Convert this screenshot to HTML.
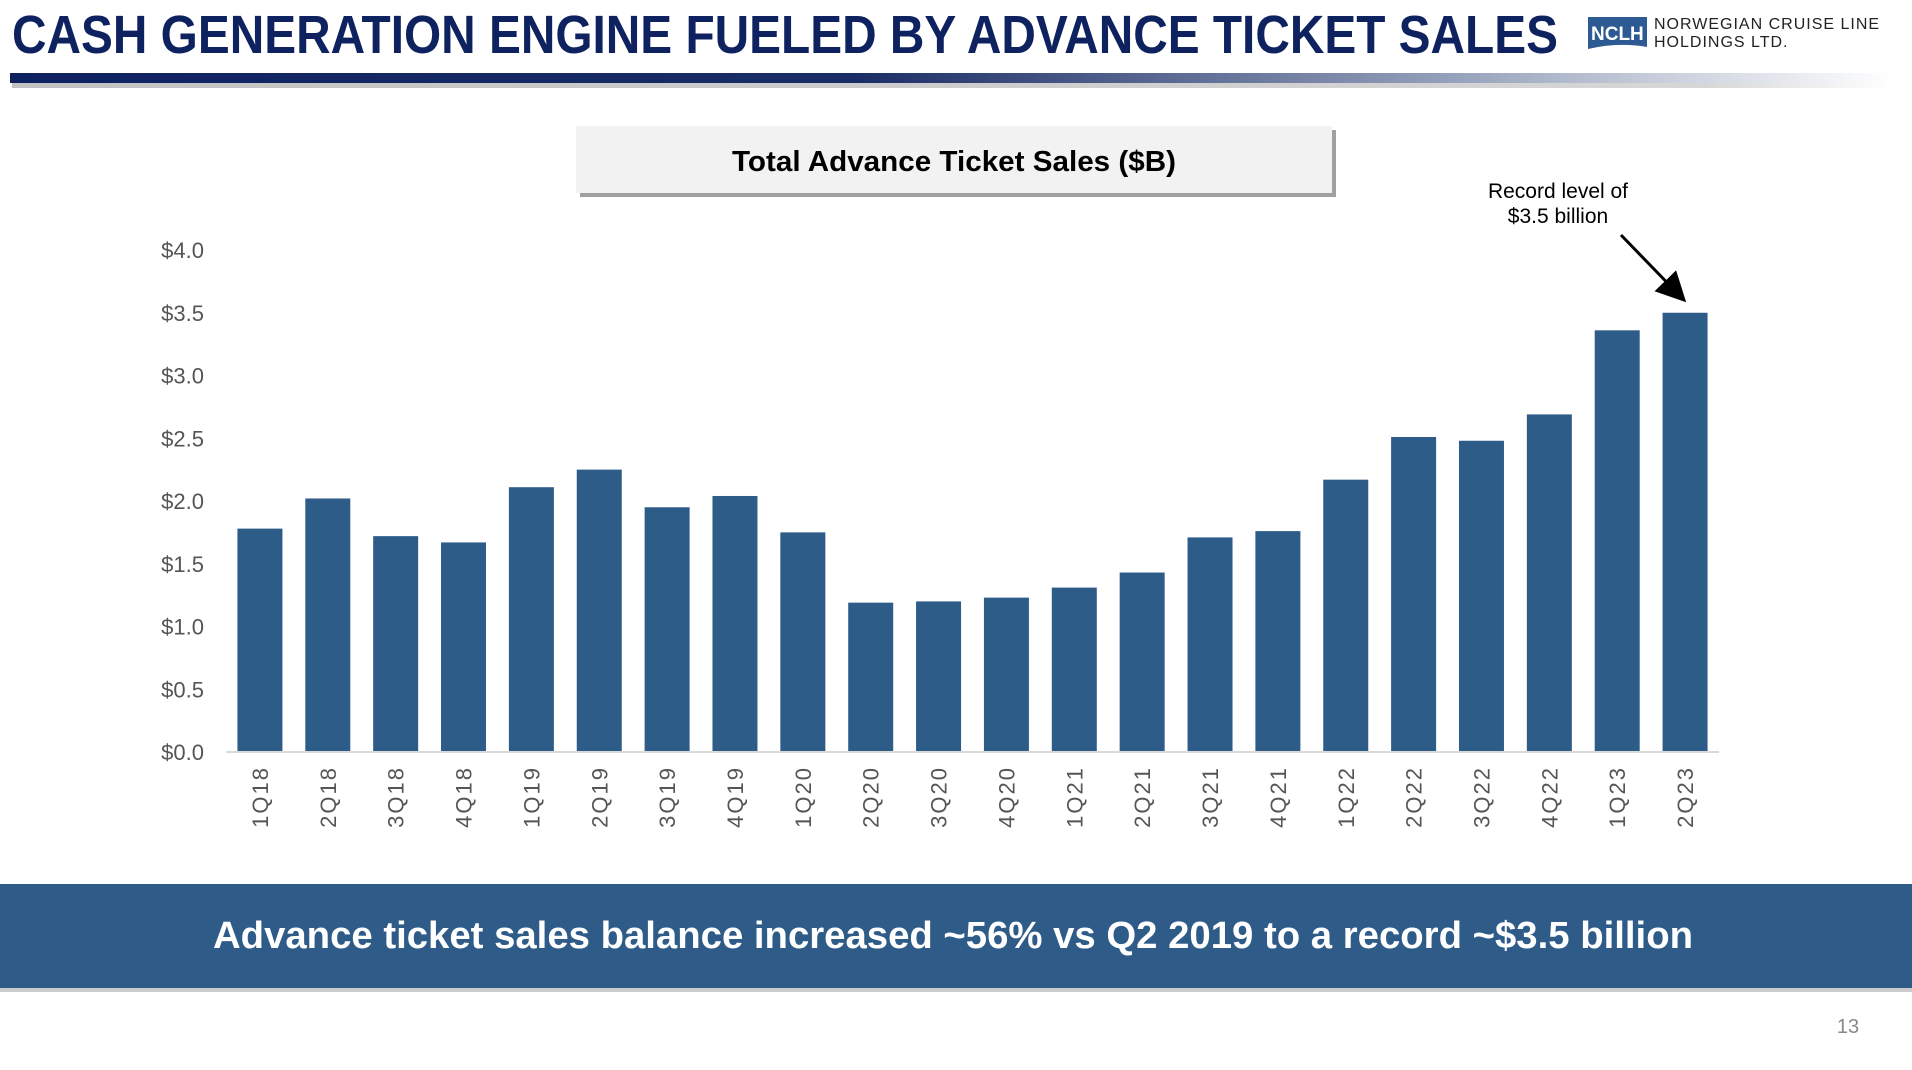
<!DOCTYPE html>
<html><head><meta charset="utf-8"><style>
html,body{margin:0;padding:0;background:#fff;}
svg{display:block;font-family:"Liberation Sans",sans-serif;}
</style></head><body>
<svg id="chart" width="1912" height="1070" viewBox="0 0 1912 1070" xmlns="http://www.w3.org/2000/svg">
<defs>
<linearGradient id="rule" x1="0" x2="1" y1="0" y2="0">
<stop offset="0" stop-color="#0f2260"/><stop offset="0.45" stop-color="#1a2d66"/><stop offset="0.75" stop-color="#8e9ab6"/><stop offset="1" stop-color="#ffffff"/></linearGradient>
<linearGradient id="ruleShadow" x1="0" x2="1"><stop offset="0" stop-color="#999"/><stop offset="0.9" stop-color="#bbb"/><stop offset="1" stop-color="#fff"/></linearGradient>
<marker id="arr" markerWidth="10" markerHeight="10" refX="8" refY="5" orient="auto"><path d="M0,0 L10,5 L0,10 z" fill="#000"/></marker>
</defs>
<text x="12" y="53" font-size="54" font-weight="bold" fill="#0f2260" textLength="1546" lengthAdjust="spacingAndGlyphs">CASH GENERATION ENGINE FUELED BY ADVANCE TICKET SALES</text>
<g>
<path d="M1588,17 L1647,17 L1647,47 Q1618,42 1588,49 Z" fill="#2d5a92"/>
<text x="1591" y="40" font-size="19" font-weight="bold" fill="#fff">NCLH</text>
<text x="1654" y="29" font-size="16" fill="#222" letter-spacing="1">NORWEGIAN CRUISE LINE</text>
<text x="1654" y="47" font-size="16" fill="#222" letter-spacing="1">HOLDINGS  LTD.</text>
</g>
<rect x="12" y="83" width="1880" height="5" fill="url(#ruleShadow)" opacity="0.6"/>
<rect x="10" y="73" width="1880" height="10" fill="url(#rule)"/>
<g>
<rect x="580" y="130" width="756" height="67" fill="#a0a0a0"/>
<rect x="576" y="126" width="756" height="67" fill="#f2f2f2"/>
<text x="954" y="171" font-size="29" font-weight="bold" text-anchor="middle" fill="#000" textLength="444" lengthAdjust="spacingAndGlyphs">Total Advance Ticket Sales ($B)</text>
</g>
<g id="plot"></g>
<g>
<text x="1558" y="198" font-size="21" text-anchor="middle" fill="#000">Record level of</text>
<text x="1558" y="223" font-size="21" text-anchor="middle" fill="#000">$3.5 billion</text>
<line x1="1621" y1="235" x2="1682" y2="298" stroke="#000" stroke-width="3" marker-end="url(#arr)"/>
</g>
<rect x="0" y="988" width="1912" height="4" fill="#ccc"/>
<rect x="0" y="884" width="1912" height="104" fill="#2e5b88"/>
<text x="953" y="948" font-size="38" font-weight="bold" fill="#fff" text-anchor="middle" textLength="1480" lengthAdjust="spacingAndGlyphs">Advance ticket sales balance increased ~56% vs Q2 2019 to a record ~$3.5 billion</text>
<text x="1848" y="1033" font-size="20" fill="#888" text-anchor="middle">13</text>
</svg>
<script>
const categories = ["1Q18","2Q18","3Q18","4Q18","1Q19","2Q19","3Q19","4Q19","1Q20","2Q20","3Q20","4Q20","1Q21","2Q21","3Q21","4Q21","1Q22","2Q22","3Q22","4Q22","1Q23","2Q23"];
const values = [1.78,2.02,1.72,1.67,2.11,2.25,1.95,2.04,1.75,1.19,1.20,1.23,1.31,1.43,1.71,1.76,2.17,2.51,2.48,2.69,3.36,3.50];
const yTicks = [0,0.5,1,1.5,2,2.5,3,3.5,4];
const yTickLabels = ["$0.0","$0.5","$1.0","$1.5","$2.0","$2.5","$3.0","$3.5","$4.0"];

const NS = "http://www.w3.org/2000/svg";
const plot = document.getElementById("plot");
const x0 = 226, x1 = 1719, yBase = 752, yTop = 250, yMax = 4;
const band = (x1 - x0) / categories.length;
const barW = 45;
function y(v){ return yBase - (v / yMax) * (yBase - yTop); }
function x(i){ return x0 + band * (i + 0.5); }
function mk(tag, attrs){ const e = document.createElementNS(NS, tag); for (const k in attrs) e.setAttribute(k, attrs[k]); plot.appendChild(e); return e; }

yTicks.forEach((t, i) => {
  const tx = mk("text", {x: 204, y: y(t) + 8, "font-size": 22, "text-anchor": "end", fill: "#555"});
  tx.textContent = yTickLabels[i];
  
  
});

values.forEach((v, i) => {
  const r = mk("rect", {x: x(i) - barW / 2, y: y(v), width: barW, height: yBase - y(v), fill: "#2e5c89"});
  
  
  const cx = x(i) + 8, cy = 766;
  const lb = mk("text", {x: cx, y: cy, "font-size": 22, "text-anchor": "end", fill: "#555", "letter-spacing": "2", transform: "rotate(-90 " + cx + " " + cy + ")"});
  lb.textContent = categories[i];
  
  
});

const ax = mk("line", {x1: x0, y1: yBase, x2: x1, y2: yBase, stroke: "#d9d9d9", "stroke-width": 2});


</script>
</body></html>
